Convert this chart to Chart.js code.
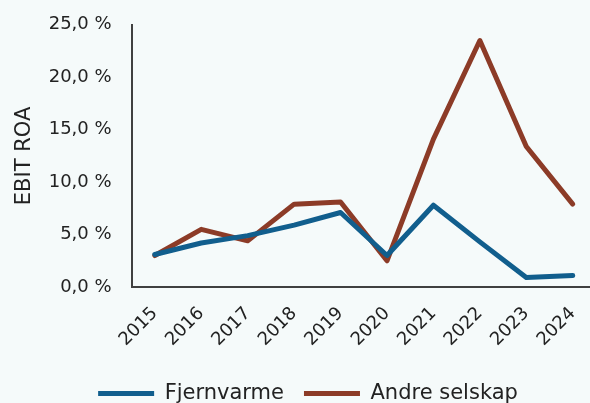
<!DOCTYPE html>
<html>
<head>
<meta charset="utf-8">
<script src="https://cdn.jsdelivr.net/npm/chart.js@4/dist/chart.umd.min.js"></script>
<style>
    html, body { margin: 0; padding: 0; background: #f5fafa; overflow: hidden; }
    #wrap { position: relative; top: -6px; width: 604px; height: 420px; }
</style>
</head>
<body>
<div id="wrap"><canvas id="chart"></canvas></div>
<script>
    'use strict';

    const years = ['2015', '2016', '2017', '2018', '2019', '2020', '2021', '2022', '2023', '2024'];
    const fjernvarme = [3.1, 4.2, 4.9, 5.9, 7.1, 3.0, 7.8, 4.3, 0.9, 1.1];
    const andreSelskap = [3.0, 5.5, 4.4, 7.9, 8.1, 2.5, 14.1, 23.5, 13.4, 7.9];
    const yTicks = [0, 5, 10, 15, 20, 25];

    const fontFamily = '"DejaVu Sans", sans-serif';
    const textColor = '#222222';
    const axisColor = '#404040';

    Chart.defaults.font.family = fontFamily;
    Chart.defaults.color = textColor;

    new Chart(document.getElementById('chart'), {
        type: 'line',
        data: {
            labels: years,
            datasets: [
                {
                    label: 'Fjernvarme',
                    data: fjernvarme,
                    borderColor: '#115e8d',
                    backgroundColor: '#115e8d',
                    borderWidth: 5,
                    borderCapStyle: 'round',
                    borderJoinStyle: 'round',
                    pointRadius: 0,
                    tension: 0
                },
                {
                    label: 'Andre selskap',
                    data: andreSelskap,
                    borderColor: '#8c3b27',
                    backgroundColor: '#8c3b27',
                    borderWidth: 5,
                    borderCapStyle: 'round',
                    borderJoinStyle: 'round',
                    pointRadius: 0,
                    tension: 0
                }
            ]
        },
        options: {
            responsive: true,
            maintainAspectRatio: false,
            animation: false,
            layout: { padding: { top: 7, left: 12, right: 0, bottom: 0 } },
            plugins: {
                tooltip: { enabled: false },
                legend: {
                    position: 'bottom',
                    labels: {
                        usePointStyle: true,
                        pointStyle: 'line',
                        pointStyleWidth: 56,
                        boxHeight: 5,
                        padding: 20,
                        color: textColor,
                        font: { size: 21 }
                    }
                }
            },
            scales: {
                y: {
                    min: 0,
                    max: 25,
                    afterBuildTicks: (scale) => {
                        scale.ticks = yTicks.map((value) => ({ value }));
                    },
                    grid: { display: false, drawTicks: false },
                    border: { display: true, color: axisColor, width: 2 },
                    ticks: {
                        padding: 20,
                        color: textColor,
                        font: { size: 18 },
                        callback: (value) => `${Number(value).toFixed(1).replace('.', ',')} %`
                    },
                    title: {
                        display: true,
                        text: 'EBIT ROA',
                        color: textColor,
                        font: { size: 21 },
                        padding: { top: 0, bottom: 4 }
                    },
                    afterFit: (scale) => {
                        scale.width = 119.6;
                    }
                },
                x: {
                    offset: true,
                    grid: { display: false, drawTicks: false },
                    border: { display: true, color: axisColor, width: 2 },
                    ticks: {
                        padding: 16,
                        minRotation: 45,
                        maxRotation: 45,
                        color: textColor,
                        font: { size: 18 }
                    },
                    afterFit: (scale) => {
                        scale.height = 76;
                    }
                }
            }
        }
    });
</script>
</body>
</html>
